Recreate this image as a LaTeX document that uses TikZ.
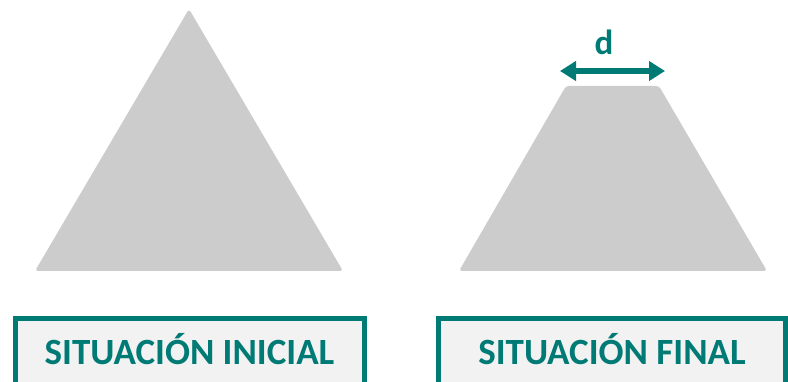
\documentclass[tikz,border=0pt]{standalone}
\usepackage{fontspec}
\setmainfont{Carlito}
\usetikzlibrary{arrows.meta}
\definecolor{teal1}{RGB}{0,122,116}
\definecolor{shape}{RGB}{204,204,204}
\definecolor{boxfill}{RGB}{242,242,242}
\tikzset{
  solid shape/.style={fill=shape, rounded corners=3pt},
  label box/.style={draw=teal1, line width=5pt, fill=boxfill},
  label text/.style={text=teal1, font=\bfseries\fontsize{37}{37}\selectfont, anchor=base, inner sep=0pt},
  cuttip/.tip={Triangle[length=16pt,width=19pt]},
}
\begin{document}
\begin{tikzpicture}[x=1pt,y=-1pt]
\useasboundingbox (0,0) rectangle (788,382);
\clip (0,0) rectangle (788,382);
% initial state: full triangle
\fill[solid shape] (35,271) -- (189,9) -- (343,271) -- cycle;
% final state: truncated top
\fill[solid shape] (459,271) -- (566,86) -- (659,86) -- (767,271) -- cycle;
% width of the cut
\coordinate (dl) at (560,71);
\coordinate (dr) at (665,71);
\draw[teal1, line width=6pt, cuttip-cuttip] (dl) -- (dr);
\node[text=teal1, font=\bfseries\fontsize{35}{35}\selectfont, anchor=base, inner sep=0pt] (d) at (604,55) {d};
% captions
\draw[label box] (15,318.5) rectangle (364,400);
\draw[label box] (438.5,318.5) rectangle (785,400);
\node[label text] (ini) at (189.5,365) {SITUACIÓN INICIAL};
\node[label text] (fin) at (612,365) {SITUACIÓN FINAL};
\end{tikzpicture}
\end{document}
